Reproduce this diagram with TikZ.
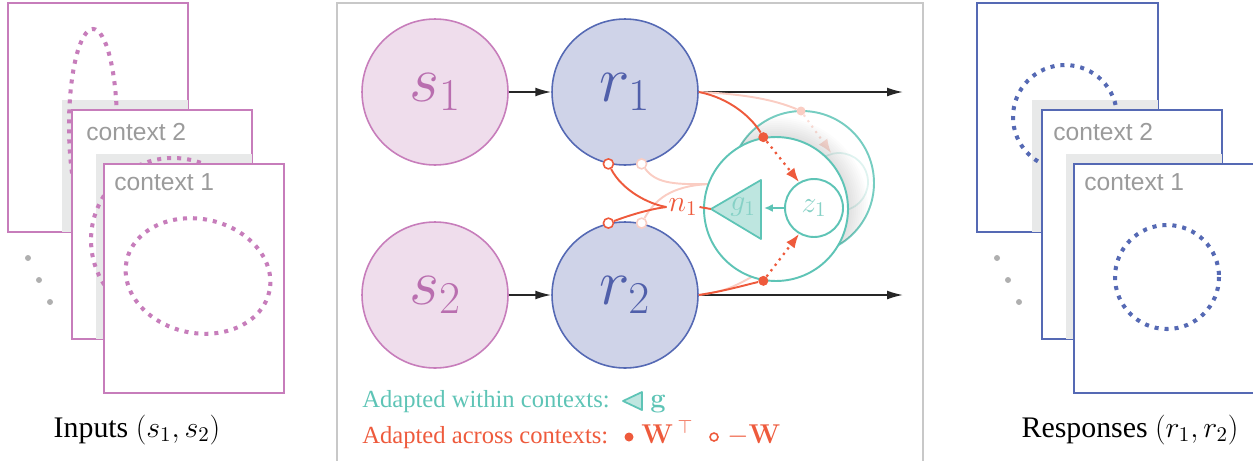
\RequirePackage{fix-cm}
\documentclass[tikz,border=0pt]{standalone}
\usepackage[no-math]{fontspec}
\setmainfont{Liberation Serif}
\setsansfont{Liberation Sans}
\usetikzlibrary{arrows.meta,positioning,shapes.geometric}
\newcommand{\cmbold}[1]{{\fontencoding{OT1}\fontfamily{cmr}\fontseries{bx}\fontshape{n}\selectfont #1}}
\definecolor{inpink}{HTML}{C77DBB}
\definecolor{inpinkfill}{HTML}{EFDDEC}
\definecolor{inpinktext}{HTML}{B96EAF}
\definecolor{resblue}{HTML}{5569B4}
\definecolor{resbluefill}{HTML}{CFD3E8}
\definecolor{resbluetext}{HTML}{505FAA}
\definecolor{gainteal}{HTML}{5EC4B6}
\definecolor{gaintealfill}{HTML}{BEE6E0}
\definecolor{gainlight}{HTML}{86D1C6}
\definecolor{wred}{HTML}{EE5A3C}
\definecolor{wghost}{HTML}{FACDC3}
\definecolor{ctxgray}{HTML}{9B9B9B}
\definecolor{ctxshade}{HTML}{E8E9E9}
\definecolor{panelgray}{HTML}{C8C8C8}
\tikzset{
    ctxframe/.style={draw=#1,fill=white,line width=0.9pt},
    ctxshadow/.style={fill=ctxshade},
    ctxdots/.style={draw=#1,line width=2.3pt,dash pattern=on 2.3pt off 3.4pt},
    ctxdot/.style={fill=ctxgray!80},
    ctxtext/.style={anchor=base west,inner sep=0pt,text=ctxgray,font=\sffamily\fontsize{14}{16}\selectfont},
    caption/.style={anchor=base,inner sep=0pt,font=\fontsize{17}{20}\selectfont},
    panel/.style={draw=panelgray,line width=0.9pt},
    inputnode/.style={circle,draw=inpink,fill=inpinkfill,line width=0.9pt,minimum size=2.92cm,inner sep=0pt,text=inpinktext,font=\fontsize{37}{40}\selectfont},
    responsenode/.style={circle,draw=resblue,fill=resbluefill,line width=0.9pt,minimum size=2.92cm,inner sep=0pt,text=resbluetext,font=\fontsize{37}{40}\selectfont},
    flowarrow/.style={-{Latex[length=9pt,width=5pt]},line width=0.9pt,draw=black!85},
    gaincircle/.style={circle,draw=gainteal,line width=1.1pt,minimum size=2.88cm,inner sep=0pt},
    znode/.style={circle,draw=gainteal,fill=white,line width=1.1pt,minimum size=1.16cm,inner sep=0pt,text=gainlight,font=\fontsize{17}{20}\selectfont},
    ghostz/.style={circle,draw=gainteal!20,fill=white,line width=1pt,minimum size=1.16cm,inner sep=0pt},
    gaintri/.style={draw=gainteal,fill=gaintealfill,line width=1pt,line join=round},
    gainarrow/.style={-{Latex[length=5pt,width=4.5pt]},draw=gainteal,line width=1pt},
    wline/.style={draw=wred,line width=1.1pt},
    wdotarrow/.style={-{Latex[length=8pt,width=6pt]},draw=wred,line width=1.3pt,dash pattern=on 1.3pt off 2.6pt},
    wdot/.style={circle,fill=wred,minimum size=0.2cm,inner sep=0pt},
    wopen/.style={circle,draw=wred,fill=white,line width=0.9pt,minimum size=0.2cm,inner sep=0pt},
    ghostline/.style={draw=wghost,line width=1.1pt},
    ghostopen/.style={circle,draw=wghost,fill=white,line width=0.9pt,minimum size=0.2cm,inner sep=0pt},
    ghostdot/.style={circle,fill=wghost,minimum size=0.18cm,inner sep=0pt},
    ghostarrow/.style={-{Latex[length=8pt,width=6pt]},draw=wghost!70,line width=1.2pt,dash pattern=on 1.2pt off 2.6pt},
    legendtext/.style={anchor=base west,inner sep=0pt,font=\fontsize{14}{16}\selectfont},
    legendmath/.style={anchor=base west,inner sep=0pt,font=\fontsize{15.5}{18}\selectfont}
}
\begin{document}
\begin{tikzpicture}[x=0.02cm,y=-0.02cm]
\useasboundingbox (0,0) rectangle (1253,460);
% inputs
\draw[ctxframe=inpink] (8,3) rectangle (188,232);
\fill[ctxshadow] (62,100) rectangle (188,232);
\draw[ctxdots=inpink] (93,126) ellipse (24 and 97);
\draw[ctxframe=inpink] (72,110) rectangle (252,339);
\node[ctxtext] (inctxb) at (86,140) {context 2};
\fill[ctxshadow] (96,154) rectangle (252,339);
\draw[ctxdots=inpink] (173,240) circle (82);
\draw[ctxframe=inpink] (104,164) rectangle (284,393);
\node[ctxtext] (inctxa) at (114,190) {context 1};
\draw[ctxdots=inpink,rotate around={-12:(198,276)}] (198,276) ellipse (73 and 57);
\foreach \i in {0,1,2} \fill[ctxdot] (28+11*\i,258+22*\i) circle (3);
\node[caption] (incap) at (137,437) {Inputs $(s_1,s_2)$};
% responses
\draw[ctxframe=resblue] (977,3) rectangle (1158,232);
\fill[ctxshadow] (1032,100) rectangle (1158,232);
\draw[ctxdots=resblue] (1065,117) circle (52);
\draw[ctxframe=resblue] (1042,110) rectangle (1222,339);
\node[ctxtext] (resctxb) at (1053,140) {context 2};
\fill[ctxshadow] (1066,154) rectangle (1222,339);
\draw[ctxframe=resblue] (1074,164) rectangle (1256,393);
\node[ctxtext] (resctxa) at (1084,190) {context 1};
\draw[ctxdots=resblue] (1167,277) circle (52);
\foreach \i in {0,1,2} \fill[ctxdot] (997+11*\i,258+22*\i) circle (3);
\node[caption] (rescap) at (1130,437) {Responses $(r_1,r_2)$};
% circuit
\draw[panel] (337,462) -- (337,3) -- (923,3) -- (923,462);
\node[inputnode] (s1) at (435,92) {$s_1$};
\node[inputnode] (s2) at (435,295) {$s_2$};
\node[responsenode] (r1) at (625,92) {$r_1$};
\node[responsenode] (r2) at (625,295) {$r_2$};
\coordinate (outa) at (903,92);
\coordinate (outb) at (903,295);
\draw[flowarrow] (s1) -- (r1);
\draw[flowarrow] (s2) -- (r2);
\draw[flowarrow] (r1.east) -- (outa);
\draw[flowarrow] (r2.east) -- (outb);
\node[gaincircle,draw=gainteal!85] (oldctx) at (802,183) {};
\coordinate (oldn) at (709,184);
\coordinate (oldbot) at (oldctx.-100);
\node[ghostz] (oldz) at (839,182) {};
\node[ghostdot] (oldtop) at (801,111) {};
\draw[ghostline] (r1.east) .. controls (745,94) and (775,100) .. (oldtop);
\draw[ghostline] (r2.east) .. controls (730,290) .. (oldbot);
\draw[ghostarrow] (oldtop) -- (oldz.105);
\node[ghostopen] (oa) at (r1.-77) {};
\node[ghostopen] (ob) at (r2.77) {};
\draw[ghostline] (oa) .. controls (655,182) and (670,185) .. (oldn);
\draw[ghostline] (ob) .. controls (655,200) and (670,186) .. (oldn);
\begin{scope}
\clip (802,183) circle (72);
\foreach \k in {1,...,10} \fill[black,opacity=0.012] (776,209) circle [radius={72+2*\k}];
\end{scope}
\node[gaincircle,fill=white] (ctx) at (776,209) {};
\node[znode] (z1) at (814,208) {$z_1$};
\coordinate (gtip) at (711,209);
\coordinate (gback) at (764,208);
\draw[gaintri] (gtip) -- (761,180) -- (761,239) -- cycle;
\node[inner sep=0pt,text=gainlight,font=\fontsize{17}{20}\selectfont] (g1) at (743,207) {$g_1$};
\node[inner sep=1pt,text=wred,font=\fontsize{17}{20}\selectfont] (n1) at (683,207) {$n_1$};
\draw[wline] (n1.east) -- (gtip);
\draw[gainarrow] (z1.west) -- (gback);
\node[wdot] (wtop) at (ctx.100) {};
\node[wdot] (wbot) at (ctx.-100) {};
\draw[wline] (r1.east) .. controls (730,98) and (752,118) .. (wtop);
\draw[wline] (r2.east) .. controls (725,291) and (745,285) .. (wbot);
\draw[wdotarrow] (wtop) -- (z1.120);
\draw[wdotarrow] (wbot) -- (z1.-120);
\node[wopen] (wa) at (r1.-103) {};
\node[wopen] (wb) at (r2.103) {};
\draw[wline] (wa) .. controls (622,190) and (648,204) .. (n1.west);
\draw[wline] (wb) .. controls (630,215) and (650,209) .. (n1.west);
% legend
\node[legendtext,text=gainteal] (legwithin) at (362,407) {Adapted within contexts:};
\draw[gaintri] (623,401) -- (642,392) -- (642,410) -- cycle;
\node[legendmath,text=gainteal] (legg) at (650,407) {\cmbold{g}};
\node[legendtext,text=wred] (legacross) at (362,443) {Adapted across contexts:};
\node[wdot,minimum size=0.18cm] (legdot) at (629,437) {};
\node[legendmath,text=wred] (legw) at (641,443) {\cmbold{W}\,$^{\top}$};
\node[wopen,minimum size=0.16cm] (legopen) at (714,437) {};
\node[legendmath,text=wred] (legnegw) at (727,443) {$-$\cmbold{W}};
\end{tikzpicture}
\end{document}
